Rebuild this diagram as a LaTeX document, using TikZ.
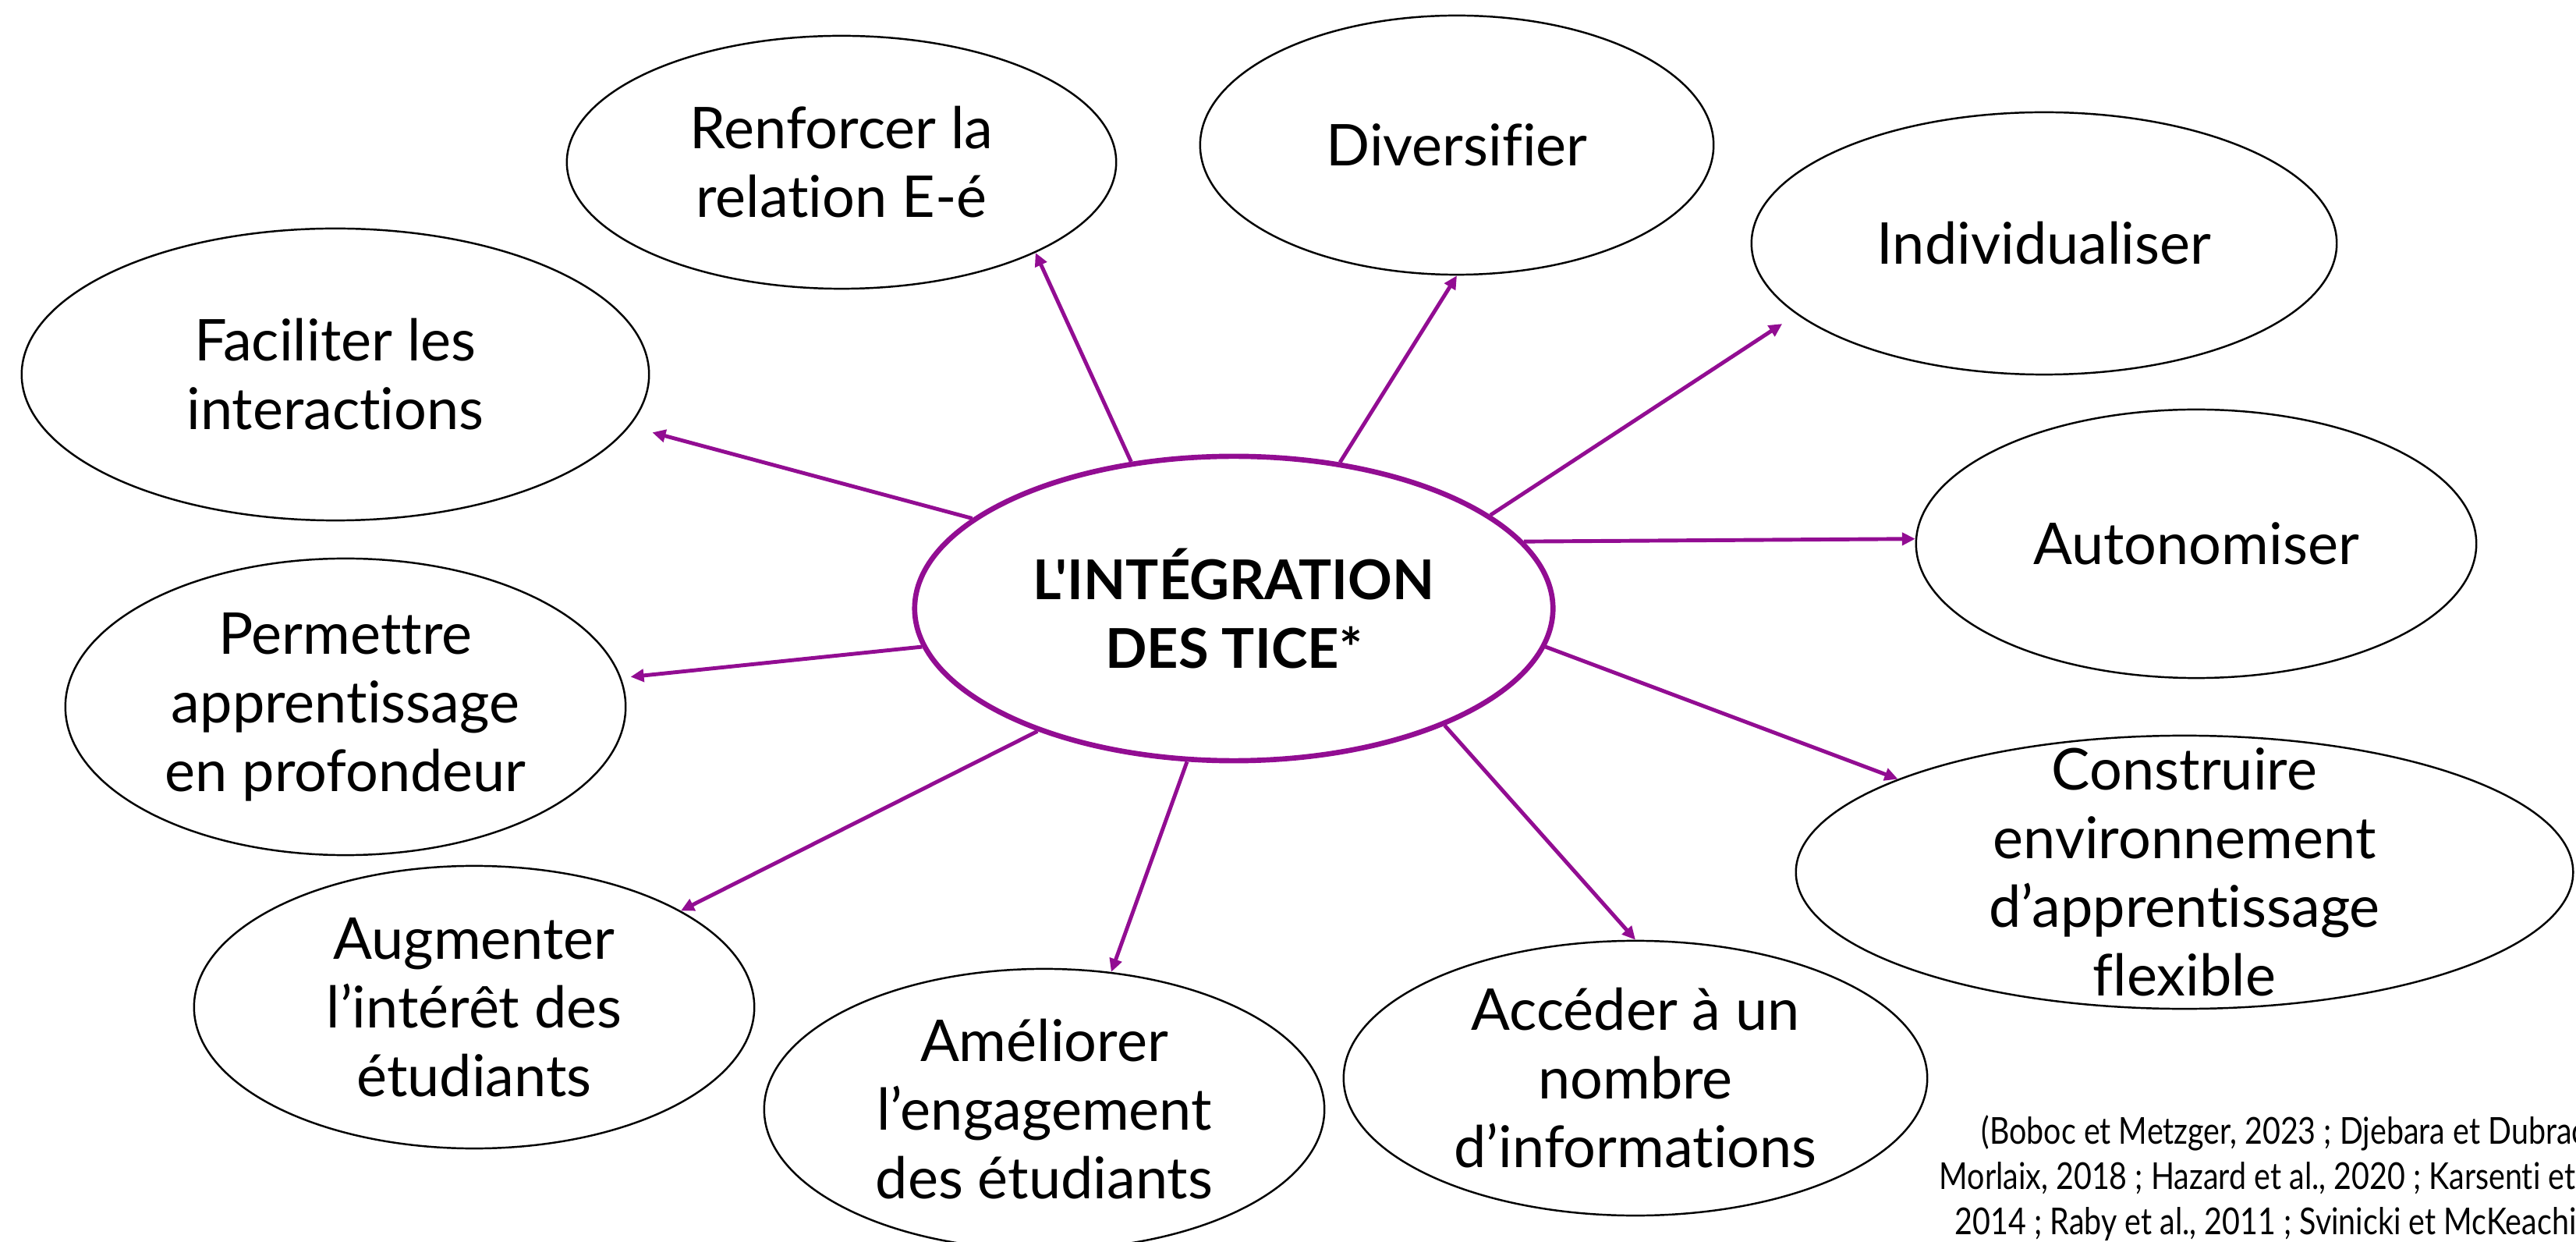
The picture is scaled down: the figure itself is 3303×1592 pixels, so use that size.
\documentclass[tikz,border=0pt]{standalone}
\usepackage{fontspec}
\setmainfont{Lato}[Ligatures=NoCommon]
\newfontfamily\titrefont{Lato}[Ligatures={TeXOff,NoCommon}]
\newfontfamily\citefont{Lato}[FakeStretch=0.83,Ligatures=NoCommon]
\usetikzlibrary{shapes.geometric,arrows.meta}
\definecolor{prune}{RGB}{146,13,146}

\begin{document}
\begin{tikzpicture}[x=0.01cm,y=-0.01cm,
  bulle/.style={draw, ellipse, line width=0.7pt, inner sep=-5mm, align=center,
    font=\fontsize{21}{25}\selectfont},
  centre/.style={draw=prune, ellipse, line width=1.9pt, inner sep=0pt, align=center,
    font=\titrefont\bfseries\fontsize{20}{25}\selectfont},
  fleche/.style={draw=prune, line width=1.4pt, -{Triangle[length=1.7mm,width=1.6mm]}},
  source/.style={anchor=base west, inner sep=0pt, font=\citefont\fontsize{13.5}{16}\selectfont}]
\useasboundingbox (0,0) rectangle (3303,1592);

\node[centre, minimum width=8.18cm, minimum height=3.9cm] (tice) at (1582,780) {L'INTÉGRATION\\DES TICE*};

\node[bulle, minimum width=7.04cm, minimum height=3.24cm] (relation) at (1079,208) {Renforcer la\\relation E-é};
\node[bulle, minimum width=6.58cm, minimum height=3.32cm] (divers) at (1868,186) {Diversifier};
\node[bulle, minimum width=7.5cm, minimum height=3.36cm] (indiv) at (2621,312) {Individualiser};
\node[bulle, minimum width=8.04cm, minimum height=3.74cm] (interact) at (430,480) {Faciliter les\\interactions};
\node[bulle, minimum width=7.18cm, minimum height=3.44cm] (autonom) at (2816,697) {Autonomiser};
\node[bulle, minimum width=7.18cm, minimum height=3.8cm] (profond) at (443,906) {Permettre\\apprentissage\\en profondeur};
\node[bulle, minimum width=9.96cm, minimum height=3.5cm] (envir) at (2801,1118) {Construire\\environnement\\d’apprentissage\\flexible};
\node[bulle, minimum width=7.18cm, minimum height=3.62cm] (interet) at (608,1291) {Augmenter\\l’intérêt des\\étudiants};
\node[bulle, minimum width=7.18cm, minimum height=3.6cm] (engag) at (1339,1422) {Améliorer\\l’engagement\\des étudiants};
\node[bulle, minimum width=7.48cm, minimum height=3.52cm] (info) at (2097,1382) {Accéder à un\\nombre\\d’informations};

\draw[fleche] (tice.125) -- (relation.-25);
\draw[fleche] (tice.54) -- (divers.-90);
\draw[fleche, shorten >=0.22cm] (tice.20) -- (indiv.-164);
\draw[fleche, shorten >=0.3cm] (tice.161) -- (interact.-10.5);
\draw[fleche] (tice.13) -- (autonom.179);
\draw[fleche, shorten >=0.12cm] (tice.-173) -- (profond.6);
\draw[fleche] (tice.-7) -- (envir.162);
\draw[fleche] (tice.-148.5) -- (interet.25.8);
\draw[fleche] (tice.-107.5) -- (engag.64);
\draw[fleche] (tice.-29) -- (info.90);

% references, cut by the page edge
\node[source] (src1) at (2540,1466) {(Boboc et Metzger, 2023 ; Djebara et Dubrac};
\node[source] (src2) at (2486,1524) {Morlaix, 2018 ; Hazard et al., 2020 ; Karsenti et};
\node[source] (src3) at (2506,1582) {2014 ; Raby et al., 2011 ; Svinicki et McKeachie};
\end{tikzpicture}
\end{document}
